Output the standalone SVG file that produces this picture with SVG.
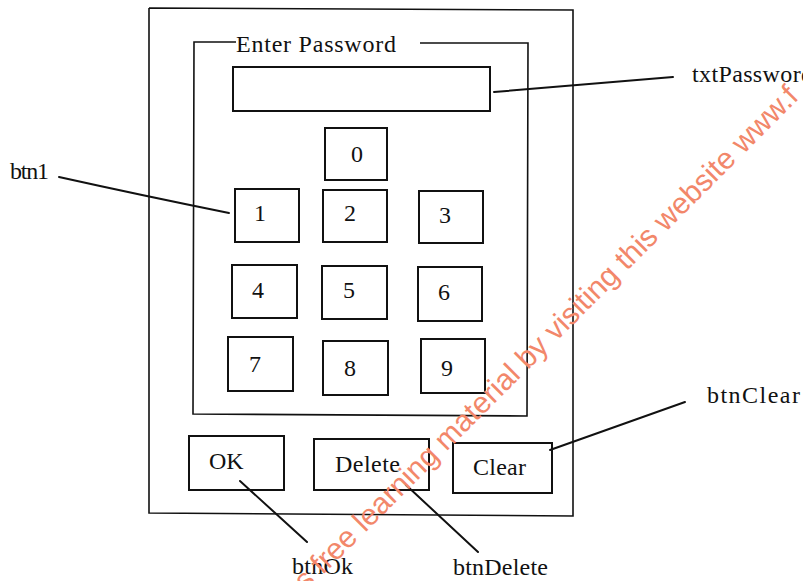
<svg xmlns="http://www.w3.org/2000/svg" width="803" height="581" viewBox="0 0 803 581">
  <style>
    .frame { fill: none; stroke: #111; stroke-width: 1.6; }
    .box { fill: #fff; stroke: #111; stroke-width: 2; }
    .lbl { font-family: "Liberation Serif", "Times New Roman", serif; font-size: 24px; fill: #111; }
    .key { font-family: "Liberation Serif", "Times New Roman", serif; font-size: 24px; fill: #111; text-anchor: middle; }
    .conn { fill: none; stroke: #111; stroke-width: 2; stroke-linecap: round; }
    .mark { font-family: "Liberation Sans", Arial, sans-serif; font-size: 30px; fill: #f2876a; }
  </style>
  <rect width="803" height="581" fill="#fff"/>

  <!-- form window -->
  <g id="form">
    <polyline class="frame" points="149,8 573,10 573,516 149,513 149,8"/>
  </g>

  <!-- "Enter Password" group box -->
  <g id="groupPassword">
    <polyline class="frame" points="236,42 194,42 193,414 527,416 528,43 420,43"/>
    <text class="lbl" x="236" y="52" textLength="160">Enter Password</text>
  </g>

  <g id="txtPassword">
    <rect class="box" x="233" y="67" width="257" height="44"/>
  </g>

  <!-- keypad -->
  <g id="btn0"><rect class="box" x="325" y="128" width="62" height="52"/><text class="key" x="357" y="162">0</text></g>
  <g id="btn1"><rect class="box" x="235" y="189" width="64" height="53"/><text class="key" x="260" y="221">1</text></g>
  <g id="btn2"><rect class="box" x="323" y="190" width="64" height="52"/><text class="key" x="350" y="221">2</text></g>
  <g id="btn3"><rect class="box" x="419" y="191" width="64" height="52"/><text class="key" x="445" y="223">3</text></g>
  <g id="btn4"><rect class="box" x="232" y="265" width="65" height="53"/><text class="key" x="258" y="298">4</text></g>
  <g id="btn5"><rect class="box" x="322" y="266" width="65" height="53"/><text class="key" x="349" y="298">5</text></g>
  <g id="btn6"><rect class="box" x="418" y="267" width="64" height="54"/><text class="key" x="444" y="300">6</text></g>
  <g id="btn7"><rect class="box" x="228" y="337" width="65" height="54"/><text class="key" x="255" y="372">7</text></g>
  <g id="btn8"><rect class="box" x="323" y="341" width="65" height="54"/><text class="key" x="350" y="376">8</text></g>
  <g id="btn9"><rect class="box" x="421" y="339" width="64" height="54"/><text class="key" x="447" y="376">9</text></g>

  <!-- command buttons -->
  <g id="btnOk"><rect class="box" x="189" y="436" width="95" height="54"/><text class="lbl" x="209" y="469">OK</text></g>
  <g id="btnDelete"><rect class="box" x="314" y="439" width="115" height="51"/><text class="lbl" x="335" y="472" textLength="65">Delete</text></g>
  <g id="btnClear"><rect class="box" x="453" y="443" width="99" height="50"/><text class="lbl" x="473" y="475" textLength="53">Clear</text></g>

  <!-- callout lines -->
  <g id="connectors">
    <path class="conn" d="M494,92 L673,77"/>
    <path class="conn" d="M59,177 Q140,195 229,213"/>
    <path class="conn" d="M550,450 L685,402"/>
    <path class="conn" d="M240,481 L307,542"/>
    <path class="conn" d="M406,485 L478,552"/>
  </g>

  <!-- control names -->
  <g id="names">
    <text class="lbl" x="692" y="82" textLength="121">txtPassword</text>
    <text class="lbl" x="10" y="179" textLength="39">btn1</text>
    <text class="lbl" x="707" y="403" textLength="93">btnClear</text>
    <text class="lbl" x="292" y="574" textLength="61">btnOk</text>
    <text class="lbl" x="453" y="575" textLength="95">btnDelete</text>
  </g>

  <!-- diagonal watermark -->
  <text class="mark" x="306" y="592" transform="rotate(-45 306 592)">s free learning material by visiting this website www.f</text>
</svg>
